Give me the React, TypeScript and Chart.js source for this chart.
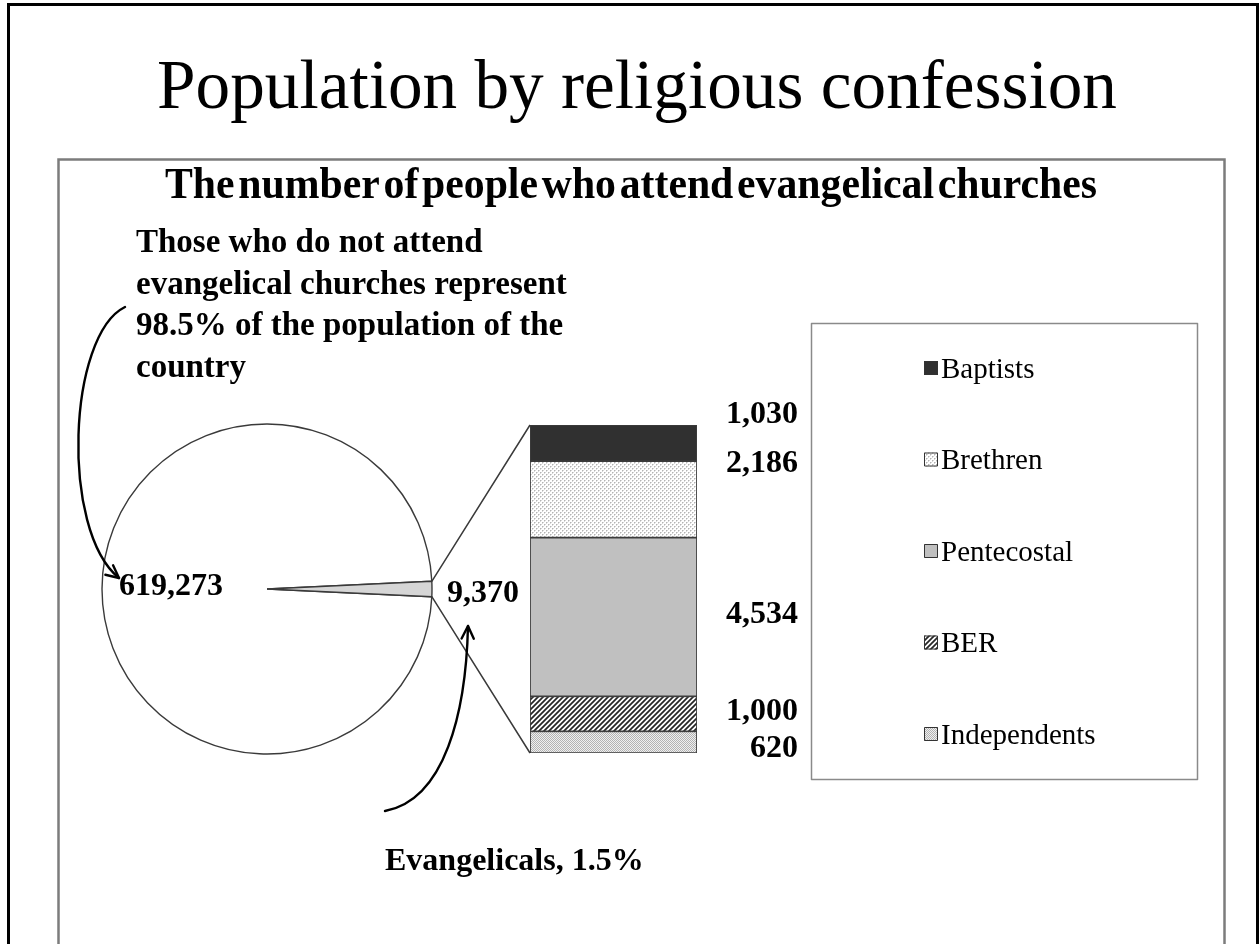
import React, { useEffect, useRef } from "react";
import { Chart, registerables } from "chart.js";

Chart.register(...registerables);

// ---- data ----
const pieLabels = ["Do not attend evangelical churches", "Evangelicals"];
const pieValues = [619273, 9370];

// stacked from the bottom up
const denominations = ["Independents", "BER", "Pentecostal", "Brethren", "Baptists"];
const denominationValues = [620, 1000, 4534, 2186, 1030];

const mainTitle = "Population by religious confession";
const chartTitle = "The number of people who attend evangelical churches";

// ---- layout ----
const W = 1259;
const H = 944;
const SERIF = '"Liberation Serif", "Times New Roman", Times, serif';

// vertical nudges for the value labels beside the bar (px, dataset order)
const labelShift = [4, -5, -5, -38, -31];

const fmt = (n: number) => n.toLocaleString("en-US");

function makePattern(size: number, paint: (c: CanvasRenderingContext2D) => void) {
  const cv = document.createElement("canvas");
  cv.width = size;
  cv.height = size;
  const c = cv.getContext("2d")!;
  paint(c);
  return c.createPattern(cv, "repeat")!;
}

function buildFills(): (string | CanvasPattern)[] {
  const independents = makePattern(2, (c) => {
    c.fillStyle = "#efefef";
    c.fillRect(0, 0, 2, 2);
    c.fillStyle = "#b2b2b2";
    c.fillRect(0, 0, 1, 1);
    c.fillRect(1, 1, 1, 1);
  });
  const ber = makePattern(5, (c) => {
    c.fillStyle = "#ffffff";
    c.fillRect(0, 0, 5, 5);
    c.strokeStyle = "#262626";
    c.lineWidth = 1.7;
    c.beginPath();
    c.moveTo(-1, 6);
    c.lineTo(6, -1);
    c.moveTo(-3.5, 3.5);
    c.lineTo(3.5, -3.5);
    c.moveTo(1.5, 8.5);
    c.lineTo(8.5, 1.5);
    c.stroke();
  });
  const brethren = makePattern(4, (c) => {
    c.fillStyle = "#ffffff";
    c.fillRect(0, 0, 4, 4);
    c.fillStyle = "#b4b4b4";
    c.fillRect(0, 0, 1, 1);
    c.fillRect(2, 2, 1, 1);
    c.fillStyle = "#d8d8d8";
    c.fillRect(1, 0, 1, 1);
    c.fillRect(0, 1, 1, 1);
    c.fillRect(3, 2, 1, 1);
    c.fillRect(2, 3, 1, 1);
  });
  return [independents, ber, "#c0c0c0", brethren, "#303030"];
}

function arrow(
  ctx: CanvasRenderingContext2D,
  p0: [number, number],
  c1: [number, number],
  c2: [number, number],
  p1: [number, number]
) {
  ctx.beginPath();
  ctx.moveTo(p0[0], p0[1]);
  ctx.bezierCurveTo(c1[0], c1[1], c2[0], c2[1], p1[0], p1[1]);
  ctx.stroke();
  const ang = Math.atan2(p1[1] - c2[1], p1[0] - c2[0]);
  const len = 14;
  const spread = 0.45;
  ctx.beginPath();
  ctx.moveTo(p1[0] - len * Math.cos(ang - spread), p1[1] - len * Math.sin(ang - spread));
  ctx.lineTo(p1[0], p1[1]);
  ctx.lineTo(p1[0] - len * Math.cos(ang + spread), p1[1] - len * Math.sin(ang + spread));
  ctx.stroke();
}

export default function App() {
  const pieRef = useRef<HTMLCanvasElement>(null);
  const barRef = useRef<HTMLCanvasElement>(null);

  useEffect(() => {
    const pieTotal = pieValues.reduce((a, b) => a + b, 0);
    const evangelicalTotal = denominationValues.reduce((a, b) => a + b, 0);
    const shareOthers = ((pieValues[0] / pieTotal) * 100).toFixed(1);
    const shareEvangelicals = ((pieValues[1] / pieTotal) * 100).toFixed(1);
    const fills = buildFills();

    // pie: the small evangelical slice points to the right
    const pie = new Chart(pieRef.current!, {
      type: "pie",
      data: {
        labels: pieLabels,
        datasets: [
          {
            data: pieValues,
            backgroundColor: ["#ffffff", "#d6d6d6"],
            borderColor: "#3a3a3a",
            borderWidth: 1.4,
          },
        ],
      },
      options: {
        responsive: false,
        animation: false,
        events: [],
        radius: 165,
        rotation: 90 + (pieValues[1] / pieTotal) * 180,
        layout: { padding: { left: 102, top: 424, right: W - 432, bottom: H - 754 } },
        plugins: { legend: { display: false }, tooltip: { enabled: false } },
      },
    });

    const overlay = {
      id: "overlay",
      beforeDraw(chart: any) {
        const ctx: CanvasRenderingContext2D = chart.ctx;
        ctx.save();
        // outer frame
        ctx.strokeStyle = "#000";
        ctx.lineWidth = 3;
        ctx.strokeRect(8.5, 4.5, 1249, 1000);
        // chart box
        ctx.strokeStyle = "#7c7c7c";
        ctx.lineWidth = 2.5;
        ctx.strokeRect(58.5, 159.5, 1166, 1000);
        ctx.restore();
      },
      afterDraw(chart: any) {
        const ctx: CanvasRenderingContext2D = chart.ctx;
        ctx.save();
        ctx.fillStyle = "#000";
        ctx.textBaseline = "alphabetic";

        // titles
        ctx.textAlign = "center";
        ctx.font = `70px ${SERIF}`;
        ctx.fillText(mainTitle, 637, 108, 960);
        ctx.font = `bold 44px ${SERIF}`;
        (ctx as any).wordSpacing = "-7px";
        ctx.fillText(chartTitle, 631, 198, 932);
        (ctx as any).wordSpacing = "0px";

        // note above the pie
        ctx.textAlign = "left";
        ctx.font = `bold 33px ${SERIF}`;
        const note = [
          "Those who do not attend",
          "evangelical churches represent",
          `${shareOthers}% of the population of the`,
          "country",
        ];
        note.forEach((t, i) => ctx.fillText(t, 136, 252 + i * 41.7, 438));

        // pie values
        const arc = pie.getDatasetMeta(0).data[1] as any;
        const { x: cx, y: cy, startAngle, endAngle, outerRadius: r } = arc.getProps(
          ["x", "y", "startAngle", "endAngle", "outerRadius"],
          true
        );
        ctx.font = `bold 32px ${SERIF}`;
        ctx.fillText(fmt(pieValues[0]), cx - r + 17, cy + 6);
        ctx.fillText(fmt(pieValues[1]), cx + r + 15, cy + 13);
        ctx.fillText(`Evangelicals, ${shareEvangelicals}%`, 385, 870);

        // connectors from the slice to the bar
        const top = chart.getDatasetMeta(denominations.length - 1).data[0] as any;
        const bottom = chart.getDatasetMeta(0).data[0] as any;
        const barLeft = top.x - top.width / 2;
        ctx.strokeStyle = "#3a3a3a";
        ctx.lineWidth = 1.5;
        ctx.beginPath();
        ctx.moveTo(cx + r * Math.cos(startAngle), cy + r * Math.sin(startAngle));
        ctx.lineTo(barLeft, top.y);
        ctx.moveTo(cx + r * Math.cos(endAngle), cy + r * Math.sin(endAngle));
        ctx.lineTo(barLeft, bottom.base);
        ctx.stroke();

        // bar values
        ctx.textAlign = "right";
        ctx.font = `bold 32px ${SERIF}`;
        denominations.forEach((_, i) => {
          const el = chart.getDatasetMeta(i).data[0] as any;
          const mid = (el.y + el.base) / 2 + labelShift[i];
          ctx.fillText(fmt(denominationValues[i]), 798, mid + 11);
        });

        // arrows
        ctx.strokeStyle = "#000";
        ctx.lineWidth = 2.4;
        ctx.lineCap = "round";
        ctx.lineJoin = "round";
        arrow(ctx, [125, 307], [68, 335], [60, 530], [119, 578]);
        arrow(ctx, [385, 811], [445, 800], [466, 712], [468, 626]);

        // legend
        ctx.lineCap = "butt";
        ctx.strokeStyle = "#8a8a8a";
        ctx.lineWidth = 1.5;
        ctx.strokeRect(811.5, 323.5, 386, 456);
        ctx.textAlign = "left";
        ctx.font = `29px ${SERIF}`;
        const order = denominations.map((_, i) => i).reverse();
        order.forEach((di, k) => {
          const yc = 368 + k * 91.5;
          ctx.fillStyle = fills[di] as any;
          ctx.fillRect(924, yc - 7, 14, 14);
          ctx.strokeStyle = "#333";
          ctx.lineWidth = 1;
          ctx.strokeRect(924.5, yc - 6.5, 13, 13);
          ctx.fillStyle = "#000";
          ctx.fillText(denominations[di], 941, yc + 9.5);
        });
        ctx.restore();
      },
    };

    const bar = new Chart(barRef.current!, {
      type: "bar",
      data: {
        labels: ["Evangelicals"],
        datasets: denominations.map((name, i) => ({
          label: name,
          data: [denominationValues[i]],
          backgroundColor: fills[i] as any,
          borderColor: "#3c3c3c",
          borderWidth: 1.2,
          borderSkipped: false,
          barPercentage: 1,
          categoryPercentage: 1,
        })),
      },
      options: {
        responsive: false,
        animation: false,
        events: [],
        layout: { padding: { left: 530, right: W - 697, top: 425, bottom: H - 753 } },
        scales: {
          x: { stacked: true, display: false },
          y: { stacked: true, display: false, min: 0, max: evangelicalTotal },
        },
        plugins: { legend: { display: false }, tooltip: { enabled: false } },
      },
      plugins: [overlay],
    });

    return () => {
      bar.destroy();
      pie.destroy();
    };
  }, []);

  return (
    <div style={{ position: "absolute", left: 0, top: 0, width: W, height: H, background: "#fff", overflow: "hidden" }}>
      <canvas ref={pieRef} width={W} height={H} style={{ position: "absolute", left: 0, top: 0 }} />
      <canvas ref={barRef} width={W} height={H} style={{ position: "absolute", left: 0, top: 0 }} />
    </div>
  );
}
